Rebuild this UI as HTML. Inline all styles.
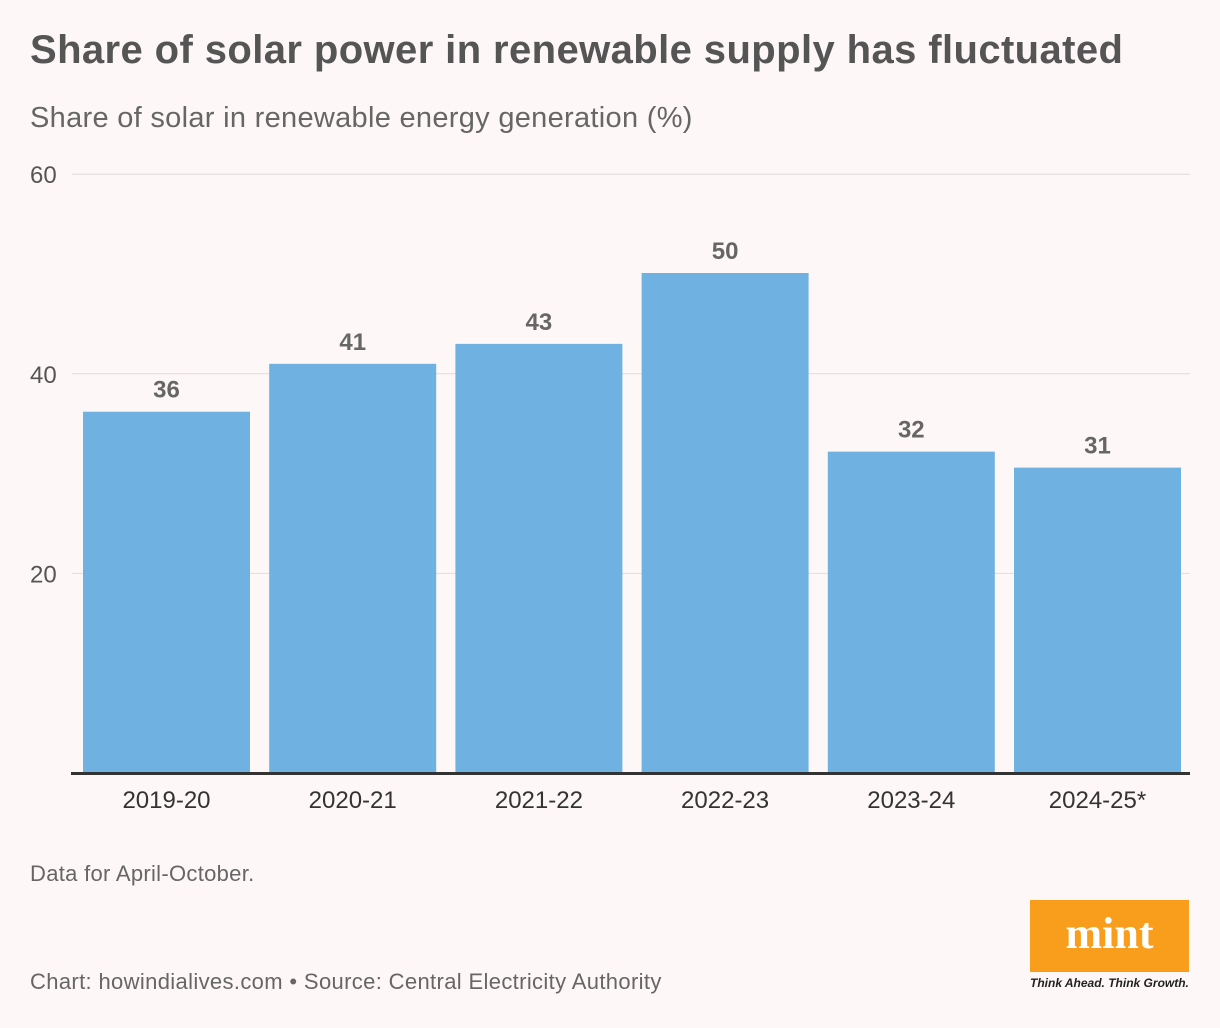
<!DOCTYPE html>
<html><head><meta charset="utf-8"><style>
body{margin:0;background:#fdf8f7;font-family:"Liberation Sans",sans-serif;}
#wrap{position:relative;width:1220px;height:1028px;overflow:hidden;}
.t{position:absolute;white-space:nowrap;}
</style></head><body>
<div id="wrap">
<div class="t" style="left:30px;top:28px;font-size:40px;font-weight:bold;color:#555;letter-spacing:0.4px">Share of solar power in renewable supply has fluctuated</div>
<div class="t" style="left:30px;top:102px;font-size:29px;color:#666;letter-spacing:0.3px">Share of solar in renewable energy generation (%)</div>
<svg id="c" width="1220" height="1028" style="position:absolute;left:0;top:0"></svg>
<div class="t" style="left:30px;top:861px;font-size:22px;color:#666;letter-spacing:0.3px">Data for April-October.</div>
<div class="t" style="left:30px;top:969px;font-size:22px;color:#666;letter-spacing:0.35px">Chart: howindialives.com • Source: Central Electricity Authority</div>
<div style="position:absolute;left:1030px;top:900px;width:159px;height:72px;background:#f99d1c;color:#fff;font-family:'Liberation Serif',serif;font-weight:bold;font-size:44px;text-align:center;line-height:68px">mint</div>
<div class="t" style="left:1030px;top:976px;font-size:12px;font-style:italic;color:#222;font-weight:bold">Think Ahead. Think Growth.</div>
</div>
<script>
const categories=["2019-20","2020-21","2021-22","2022-23","2023-24","2024-25*"];
const values=[36.2,41,43,50.1,32.2,30.6];
const ticks=[20,40,60];
const svg=document.getElementById('c');
const NS='http://www.w3.org/2000/svg';
const x0=76,band=186.2,y0=773,k=9.98;
const y=v=>y0-v*k;
function mk(t,a){const e=document.createElementNS(NS,t);for(const n in a)e.setAttribute(n,a[n]);svg.appendChild(e);return e;}
ticks.forEach(t=>{
 const l=mk('line',{x1:72,x2:1190,y1:y(t),y2:y(t),stroke:'#e2dcdc','stroke-width':1});
 
 
 const tx=mk('text',{x:30,y:y(t)+9,'font-size':24,fill:'#555','font-family':'Liberation Sans, sans-serif'});
 tx.textContent=t;
 
 
});
categories.forEach((c,i)=>{
 const bx=x0+i*band+7;
 const r=mk('rect',{x:bx,y:y(values[i]),width:167,height:y0-y(values[i]),fill:'#6fb1e1'});
 
 
 const v=mk('text',{x:bx+83.5,y:y(values[i])-14,'font-size':24,'font-weight':'bold',fill:'#666','text-anchor':'middle','font-family':'Liberation Sans, sans-serif'});
 v.textContent=Math.round(values[i]);
 
 
 const xl=mk('text',{x:bx+83.5,y:808,'font-size':24,fill:'#333','text-anchor':'middle','font-family':'Liberation Sans, sans-serif'});
 xl.textContent=c;
 
 
});
const ax=mk('line',{x1:71,x2:1190,y1:773.5,y2:773.5,stroke:'#333','stroke-width':3});


</script>
</body></html>
